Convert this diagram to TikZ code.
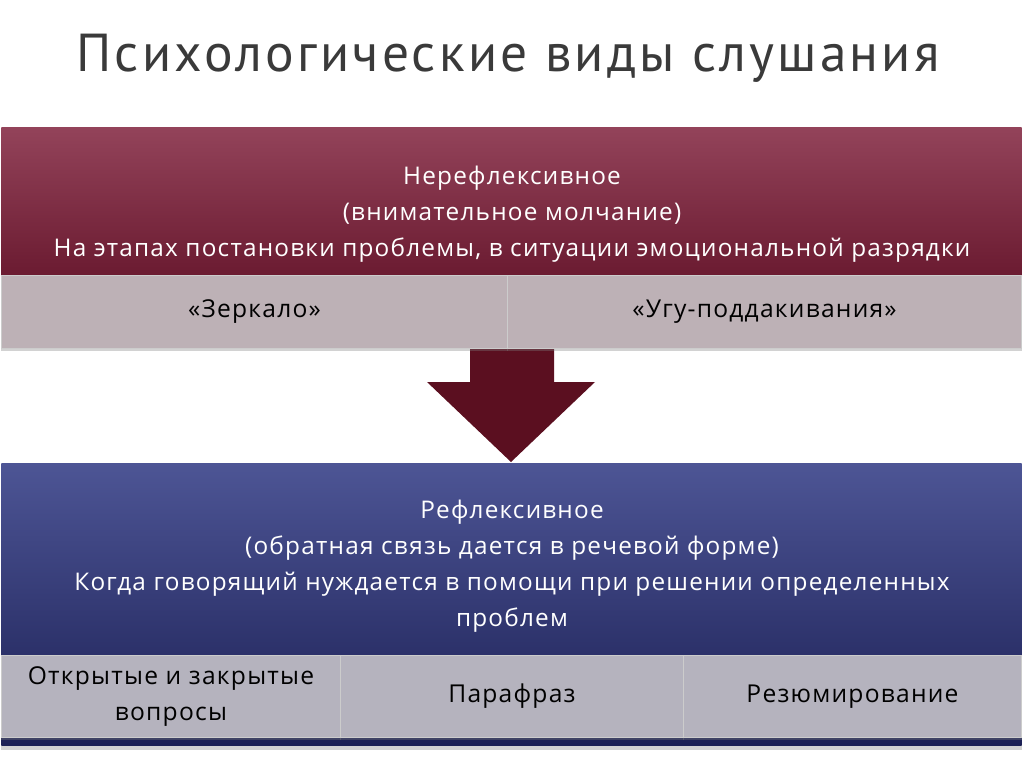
\documentclass[tikz,border=0pt]{standalone}
\usepackage{fontspec}
\setmainfont[LetterSpace=5]{Open Sans}
\newfontfamily\titlefont[LetterSpace=6]{PT Sans}
\usetikzlibrary{shadows}
\definecolor{winetop}{HTML}{93435A}
\definecolor{winebot}{HTML}{6B1B31}
\definecolor{mauve}{HTML}{BDB1B6}
\definecolor{arrowred}{HTML}{5B0F20}
\definecolor{navytop}{HTML}{4D5595}
\definecolor{navybot}{HTML}{1C2055}
\definecolor{greyblue}{HTML}{B5B3BE}
\definecolor{titlegrey}{HTML}{3A3A3A}

\begin{document}
\begin{tikzpicture}[x=0.025cm,y=-0.025cm,
  bigbox/.style={anchor=north west,inner sep=0pt,minimum width=25.5cm,drop shadow={shadow xshift=0pt,shadow yshift=-3pt,opacity=0.35}},
  subbox/.style={anchor=north west,inner sep=0pt,draw=white!80!black,line width=0.6pt,text=black,align=center,font=\fontsize{17.5}{26}\selectfont,drop shadow={shadow xshift=0pt,shadow yshift=-2pt,opacity=0.35}},
  boxtext/.style={text=white,align=center,font=\fontsize{17.3}{25.5}\selectfont}]

\useasboundingbox[fill=white] (0,0) rectangle (1024,767);

\node[font=\titlefont\fontsize{38}{40}\selectfont,text=titlegrey] (title) at (508,58) {Психологические виды слушания};

\node[bigbox,minimum height=3.7cm,top color=winetop,bottom color=winebot] (nonrefl) at (1,127) {};
\node[boxtext] (nonrefltxt) at (512,214) {Нерефлексивное\\(внимательное молчание)\\На этапах постановки проблемы, в ситуации эмоциональной разрядки};

\fill[arrowred] (470,340) -- (554,340) -- (554,382) -- (595,382) -- (511,462) -- (427,382) -- (470,382) -- cycle;

\node[subbox,fill=mauve,minimum width=12.65cm,minimum height=1.825cm] (mirror) at (1,275) {«Зеркало»};
\node[subbox,fill=mauve,minimum width=12.85cm,minimum height=1.825cm] (uhhuh) at (507,275) {«Угу-поддакивания»};

\node[bigbox,minimum height=7.05cm,top color=navytop,bottom color=navybot] (refl) at (1,463) {};
\node[boxtext] (refltxt) at (512,566) {Рефлексивное\\(обратная связь дается в речевой форме)\\Когда говорящий нуждается в помощи при решении определенных\\проблем};

\node[subbox,fill=greyblue,minimum width=8.475cm,minimum height=2.05cm] (questions) at (1,655) {Открытые и закрытые\\вопросы};
\node[subbox,fill=greyblue,minimum width=8.575cm,minimum height=2.05cm] (paraphrase) at (340,655) {Парафраз};
\node[subbox,fill=greyblue,minimum width=8.45cm,minimum height=2.05cm] (summary) at (683,655) {Резюмирование};
\end{tikzpicture}
\end{document}
